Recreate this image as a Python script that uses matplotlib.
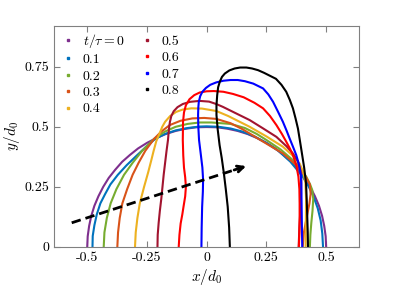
import matplotlib
matplotlib.use("Agg")
import matplotlib.pyplot as plt

plt.rcParams["font.family"] = "serif"
plt.rcParams["font.serif"] = ["cmr10"]
plt.rcParams["mathtext.fontset"] = "cm"
plt.rcParams["axes.unicode_minus"] = False

# droplet profiles (x/d0, y/d0), left foot -> top -> right foot
x_t00 = [-0.5, -0.498, -0.492, -0.483, -0.470, -0.453, -0.433, -0.410, -0.383, -0.354,
         -0.321, -0.287, -0.25, -0.211, -0.171, -0.129, -0.087, -0.044, 0.0,
         0.044, 0.087, 0.129, 0.171, 0.211, 0.25, 0.287, 0.321, 0.354, 0.383,
         0.410, 0.433, 0.453, 0.470, 0.483, 0.492, 0.498, 0.5]
y_t00 = [0.0, 0.044, 0.087, 0.129, 0.171, 0.211, 0.25, 0.287, 0.321, 0.354,
         0.383, 0.410, 0.433, 0.453, 0.470, 0.483, 0.492, 0.498, 0.499,
         0.498, 0.492, 0.483, 0.470, 0.453, 0.433, 0.410, 0.383, 0.354, 0.321,
         0.287, 0.25, 0.211, 0.171, 0.129, 0.087, 0.044, 0.0]

x_t01 = [-0.478, -0.477, -0.470, -0.460, -0.445, -0.425, -0.403, -0.372, -0.335, -0.293,
         -0.25, -0.215, -0.175, -0.13, -0.08, -0.03, 0.0, 0.05, 0.10, 0.15,
         0.20, 0.25, 0.30, 0.35, 0.40, 0.425, 0.447, 0.465, 0.477, 0.484, 0.487]
y_t01 = [0.0, 0.045, 0.09, 0.135, 0.181, 0.22, 0.26, 0.30, 0.34, 0.38,
         0.42, 0.45, 0.47, 0.485, 0.495, 0.501, 0.502, 0.50, 0.493, 0.48,
         0.46, 0.433, 0.40, 0.355, 0.295, 0.255, 0.21, 0.16, 0.11, 0.055, 0.0]

x_t02 = [-0.431, -0.428, -0.418, -0.402, -0.378, -0.346, -0.31, -0.27, -0.22, -0.175,
         -0.13, -0.08, -0.03, 0.02, 0.10, 0.16, 0.21, 0.25, 0.31, 0.361,
         0.39, 0.417, 0.433, 0.442, 0.446, 0.443, 0.438, 0.434, 0.432]
y_t02 = [0.0, 0.06, 0.12, 0.181, 0.24, 0.30, 0.35, 0.40, 0.45, 0.48,
         0.50, 0.512, 0.518, 0.518, 0.512, 0.495, 0.47, 0.445, 0.405, 0.361,
         0.33, 0.292, 0.26, 0.236, 0.20, 0.15, 0.10, 0.05, 0.0]

x_t03 = [-0.374, -0.371, -0.364, -0.353, -0.333, -0.31, -0.285, -0.257, -0.22, -0.19,
         -0.155, -0.11, -0.06, -0.01, 0.04, 0.10, 0.15, 0.20, 0.25, 0.319,
         0.375, 0.41, 0.432, 0.435, 0.43, 0.418, 0.407, 0.402]
y_t03 = [0.0, 0.06, 0.12, 0.181, 0.24, 0.30, 0.35, 0.40, 0.45, 0.48,
         0.507, 0.525, 0.535, 0.537, 0.533, 0.515, 0.49, 0.46, 0.43, 0.389,
         0.34, 0.30, 0.26, 0.22, 0.18, 0.12, 0.06, 0.0]

x_t04 = [-0.30, -0.297, -0.29, -0.28, -0.262, -0.245, -0.232, -0.222, -0.211, -0.196,
         -0.186, -0.174, -0.153, -0.128, -0.10, -0.064, -0.02, 0.04, 0.09, 0.14,
         0.18, 0.25, 0.319, 0.36, 0.389, 0.405, 0.413, 0.416, 0.415, 0.414]
y_t04 = [0.0, 0.06, 0.12, 0.181, 0.25, 0.31, 0.36, 0.40, 0.44, 0.475,
         0.50, 0.521, 0.545, 0.562, 0.572, 0.577, 0.576, 0.566, 0.545, 0.52,
         0.50, 0.46, 0.417, 0.38, 0.347, 0.31, 0.27, 0.2, 0.1, 0.0]

x_t05 = [-0.206, -0.205, -0.201, -0.196, -0.19, -0.185, -0.18, -0.174, -0.168, -0.162,
         -0.158, -0.154, -0.148, -0.138, -0.122, -0.10, -0.07, -0.03, 0.01, 0.04,
         0.068, 0.125, 0.18, 0.235, 0.292, 0.333, 0.361, 0.382, 0.392, 0.396,
         0.395, 0.392, 0.388, 0.385]
y_t05 = [0.0, 0.05, 0.10, 0.15, 0.20, 0.25, 0.30, 0.35, 0.40, 0.445,
         0.49, 0.52, 0.545, 0.565, 0.582, 0.595, 0.604, 0.608, 0.605, 0.595,
         0.583, 0.555, 0.528, 0.494, 0.458, 0.42, 0.389, 0.355, 0.32, 0.28,
         0.22, 0.15, 0.08, 0.0]

x_t06 = [-0.117, -0.114, -0.109, -0.102, -0.097, -0.09, -0.087, -0.09, -0.095, -0.098,
         -0.10, -0.099, -0.095, -0.087, -0.072, -0.052, -0.029, 0.0, 0.03, 0.07,
         0.11, 0.155, 0.20, 0.236, 0.265, 0.292, 0.315, 0.333, 0.348, 0.361,
         0.375, 0.384, 0.388, 0.389, 0.389, 0.388, 0.386]
y_t06 = [0.0, 0.05, 0.097, 0.135, 0.167, 0.21, 0.25, 0.29, 0.33, 0.38,
         0.445, 0.52, 0.56, 0.59, 0.615, 0.632, 0.643, 0.648, 0.649, 0.646,
         0.637, 0.623, 0.60, 0.577, 0.545, 0.507, 0.47, 0.438, 0.41, 0.382,
         0.34, 0.292, 0.24, 0.18, 0.12, 0.06, 0.0]

x_t07 = [-0.022, -0.021, -0.019, -0.016, -0.015, -0.018, -0.024, -0.032, -0.035, -0.036,
         -0.035, -0.033, -0.027, -0.018, -0.003, 0.015, 0.04, 0.07, 0.10, 0.13,
         0.16, 0.195, 0.236, 0.258, 0.278, 0.30, 0.319, 0.334, 0.347, 0.362,
         0.375, 0.387, 0.394, 0.396, 0.397, 0.398, 0.399, 0.40]
y_t07 = [0.0, 0.08, 0.167, 0.23, 0.28, 0.33, 0.38, 0.445, 0.50, 0.549,
         0.58, 0.604, 0.628, 0.646, 0.662, 0.675, 0.685, 0.692, 0.695, 0.695,
         0.69, 0.68, 0.66, 0.635, 0.604, 0.56, 0.521, 0.485, 0.452, 0.415,
         0.382, 0.34, 0.30, 0.264, 0.2, 0.125, 0.06, 0.0]

x_t08 = [0.097, 0.094, 0.088, 0.08, 0.072, 0.063, 0.054, 0.046, 0.041, 0.041,
         0.044, 0.048, 0.055, 0.064, 0.076, 0.095, 0.117, 0.14, 0.166, 0.19,
         0.215, 0.24, 0.29, 0.313, 0.333, 0.348, 0.361, 0.372, 0.382, 0.389,
         0.397, 0.408, 0.416, 0.419, 0.421, 0.423, 0.424]
y_t08 = [0.0, 0.08, 0.167, 0.24, 0.306, 0.37, 0.424, 0.49, 0.549, 0.59,
         0.632, 0.665, 0.688, 0.708, 0.722, 0.735, 0.743, 0.747, 0.747, 0.743,
         0.736, 0.725, 0.70, 0.675, 0.646, 0.612, 0.577, 0.535, 0.493, 0.45,
         0.40, 0.33, 0.264, 0.19, 0.125, 0.06, 0.0]

profiles_x = [x_t00, x_t01, x_t02, x_t03, x_t04, x_t05, x_t06, x_t07, x_t08]
profiles_y = [y_t00, y_t01, y_t02, y_t03, y_t04, y_t05, y_t06, y_t07, y_t08]
labels = [r"$t/\tau=0$", "0.1", "0.2", "0.3", "0.4", "0.5", "0.6", "0.7", "0.8"]
colors = ["#7E2F8E", "#0072BD", "#77AC30", "#D95319", "#EDB120",
          "#A2142F", "#FF0000", "#0000FF", "#000000"]

xticks = [-0.5, -0.25, 0, 0.25, 0.5]
xticklabels = ["-0.5", "-0.25", "0", "0.25", "0.5"]
yticks = [0, 0.25, 0.5, 0.75]
yticklabels = ["0", "0.25", "0.5", "0.75"]

arrow_start = (-0.565, 0.10)
arrow_end = (0.165, 0.336)

fig = plt.figure(figsize=(3.99, 2.89), dpi=100)
ax = fig.add_axes([0.136, 0.146, 0.764, 0.764])

for xs, ys, lab, c in zip(profiles_x, profiles_y, labels, colors):
    ax.plot(xs, ys, color=c, lw=1.5, solid_joinstyle="round")
    ax.plot([], [], ls="none", marker="s", ms=1.6, color=c, label=lab)

# dashed arrow for time direction
ax.plot([arrow_start[0], arrow_end[0] - 0.01], [arrow_start[1], arrow_end[1] - 0.003],
        color="k", lw=2, dashes=(3.4, 1.8))
ax.annotate("", xy=arrow_end, xytext=(arrow_end[0] - 0.05, arrow_end[1] - 0.016),
            arrowprops=dict(arrowstyle="->", color="k", lw=2, mutation_scale=11,
                            shrinkA=0, shrinkB=0))

ax.set_xlim(-0.638, 0.638)
ax.set_ylim(0, 0.92)
ax.set_xticks(xticks)
ax.set_xticklabels(xticklabels)
ax.set_yticks(yticks)
ax.set_yticklabels(yticklabels)
ax.tick_params(direction="in", top=True, right=True, length=4, width=0.8,
               color="#808080", labelsize=10)
for sp in ax.spines.values():
    sp.set_color("#808080")
    sp.set_linewidth(0.8)

ax.set_xlabel(r"$x/d_0$", fontsize=11, labelpad=2)
ax.set_ylabel(r"$y/d_0$", fontsize=11, labelpad=2)

ax.legend(loc="upper left", ncol=2, frameon=False, fontsize=10, handlelength=1.12,
          handletextpad=0.54, columnspacing=1.0, labelspacing=0.27,
          borderaxespad=0.2, borderpad=0.2)

fig.savefig("out.png", dpi=100)
